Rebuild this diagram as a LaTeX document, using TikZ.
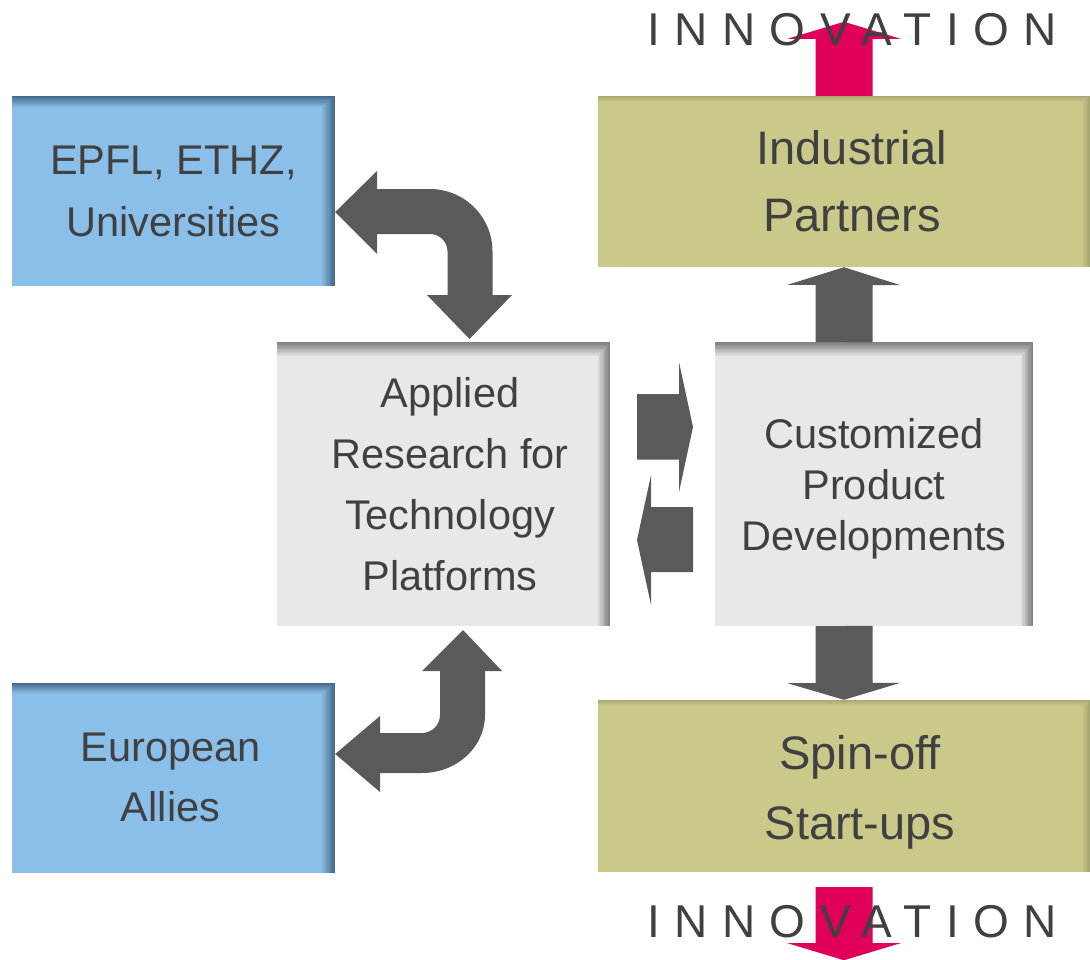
\documentclass[tikz,border=0pt]{standalone}
\usepackage{fontspec}
\setmainfont{Liberation Sans}
\usetikzlibrary{calc}
\definecolor{uniblue}{HTML}{89BFE8}
\definecolor{unishadow}{HTML}{46698A}
\definecolor{labgray}{HTML}{E8E8E8}
\definecolor{labshadow}{HTML}{7E7E7E}
\definecolor{partnergreen}{HTML}{C9C98A}
\definecolor{partnershadow}{HTML}{A8A872}
\definecolor{arrowgray}{HTML}{5A5A5A}
\definecolor{innopink}{HTML}{E0005A}
\definecolor{textgray}{HTML}{404040}

\tikzset{
  % box with darkened top and right edges
  edgebox/.style n args={4}{rectangle, inner sep=0pt, fill=#1,
    path picture={
      \foreach \k in {1,...,10} {
        \pgfmathsetmacro\stripd{#3*(11-\k)/10}
        \pgfmathsetmacro\stripr{#4*(11-\k)/10}
        \pgfmathtruncatemacro\mix{10*\k}
        \fill[#2!\mix!#1] (path picture bounding box.north west) rectangle ([yshift=-\stripd pt]path picture bounding box.north east);
        \fill[#2!\mix!#1] ([xshift=-\stripr pt]path picture bounding box.north east) rectangle (path picture bounding box.south east);
      }
    }},
  unibox/.style={edgebox={uniblue}{unishadow}{11}{13}, minimum width=323pt, minimum height=190pt},
  labbox/.style={edgebox={labgray}{labshadow}{14}{12}, minimum width=333pt, minimum height=284pt},
  partnerbox/.style={edgebox={partnergreen}{partnershadow}{6}{8}, minimum width=492pt, minimum height=171pt},
  boxtext/.style={align=center, inner sep=0pt, text=textgray, font=\fontsize{41.5}{#1}\selectfont},
  bigtext/.style={align=center, inner sep=0pt, text=textgray, font=\fontsize{47}{#1}\selectfont},
  blockarrow/.style={fill=arrowgray},
  innoarrow/.style={fill=innopink},
  innotext/.style={anchor=base west, inner sep=0pt, text=textgray,
    font=\fontsize{46}{46}\selectfont\addfontfeature{LetterSpace=31.5}},
}

\begin{document}
\begin{tikzpicture}[x=1pt, y=-1pt]
	\useasboundingbox (0,0) rectangle (1090,959);

	% Boxes
	\node[unibox] (epfl) at (173.5,191) {};
	\node[unibox] (euro) at (173.5,777.5) {};
	\node[labbox] (appl) at (443.5,484) {};
	\node[labbox, minimum width=318pt] (cust) at (874,484) {};
	\node[partnerbox] (ind) at (844,181.5) {};
	\node[partnerbox, minimum height=172pt] (spin) at (844,786) {};

	% Box texts
	\node[boxtext=62] (epfltext) at (epfl.center) {EPFL, ETHZ,\\Universities};
	\node[boxtext=60] (eurotext) at ([xshift=-3pt]euro.center) {European\\Allies};
	\node[boxtext=61] (appltext) at ([xshift=6.5pt]appl.center) {Applied\\Research for\\Technology\\Platforms};
	\node[boxtext=51] (custtext) at ([yshift=-5pt]cust.center) {Customized\\Product\\Developments};
	\node[bigtext=67] (indtext) at ([xshift=8pt]ind.center) {Industrial\\Partners};
	\node[bigtext=70] (spintext) at ([xshift=16pt, yshift=-6pt]spin.center) {Spin-off\\Start-ups};

	% Innovation arrows (under the text)
	\coordinate (outfoot) at ([yshift=-15pt]spin.south);
	\fill[innoarrow] (ind.north) ++(-28.5,0) -- ++(0,-57) -- ++(-28,0) -- ++(56.5,-17) -- ++(56.5,17) -- ++(-28,0) -- ++(0,57) -- cycle;
	\fill[innoarrow] (outfoot) ++(-28.5,0) -- ++(0,56) -- ++(-28,0) -- ++(56.5,17) -- ++(56.5,-17) -- ++(-28,0) -- ++(0,-56) -- cycle;
	\node[innotext] (innotop) at (647,45) {INNOVATION};
	\node[innotext] (innobot) at (647,937) {INNOVATION};

	% Product developments up to partners, down to spin-offs
	\coordinate (upfoot) at (ind.south |- cust.north);
	\coordinate (downfoot) at (spin.north |- cust.south);
	\fill[blockarrow] (upfoot) ++(-28.5,0) -- ++(0,-57) -- ++(-28,0) -- (ind.south) -- ++(56.5,18) -- ++(-28,0) -- ++(0,57) -- cycle;
	\fill[blockarrow] (downfoot) ++(-28.5,0) -- ++(0,57) -- ++(-28,0) -- (spin.north) -- ++(56.5,-17) -- ++(-28,0) -- ++(0,-57) -- cycle;

	% Between research and developments
	\coordinate (fwdfoot) at (637,426.5);
	\coordinate (backfoot) at (693,540);
	\fill[blockarrow] (fwdfoot) ++(0,-32.5) -- ++(42,0) -- ++(0,-32) -- ++(14,65) -- ++(-14,65) -- ++(0,-32.5) -- ++(-42,0) -- cycle;
	\fill[blockarrow] (backfoot) ++(0,-33) -- ++(-42,0) -- ++(0,-32) -- ++(-14,65) -- ++(14,65) -- ++(0,-33) -- ++(42,0) -- cycle;

	% Universities <-> research
	\coordinate (unitip) at ([yshift=-21pt]epfl.east);
	\coordinate (applintop) at (469.5,339);
	\fill[blockarrow] (unitip) -- (377,171) -- (377,189) -- (430,189)
		arc[start angle=90, end angle=0, radius=62.5pt] -- (492.5,295) -- (512,295) -- (applintop)
		-- (427,295) -- (447.5,295) -- (447.5,251.5)
		arc[start angle=0, end angle=90, radius=17.5pt] -- (377,234) -- (377,254) -- cycle;

	% Research <-> european allies
	\coordinate (applinbot) at (463,630);
	\coordinate (eurotip) at ([yshift=23.5pt]euro.east);
	\fill[blockarrow] (applinbot) -- (502,671) -- (485,671) -- (485,715)
		arc[start angle=0, end angle=-90, x radius=63pt, y radius=58pt] -- (380,773) -- (380,792) -- (eurotip)
		-- (380,716) -- (380,733) -- (422,733)
		arc[start angle=-90, end angle=0, radius=18pt] -- (440,671) -- (422,671) -- cycle;
\end{tikzpicture}
\end{document}
